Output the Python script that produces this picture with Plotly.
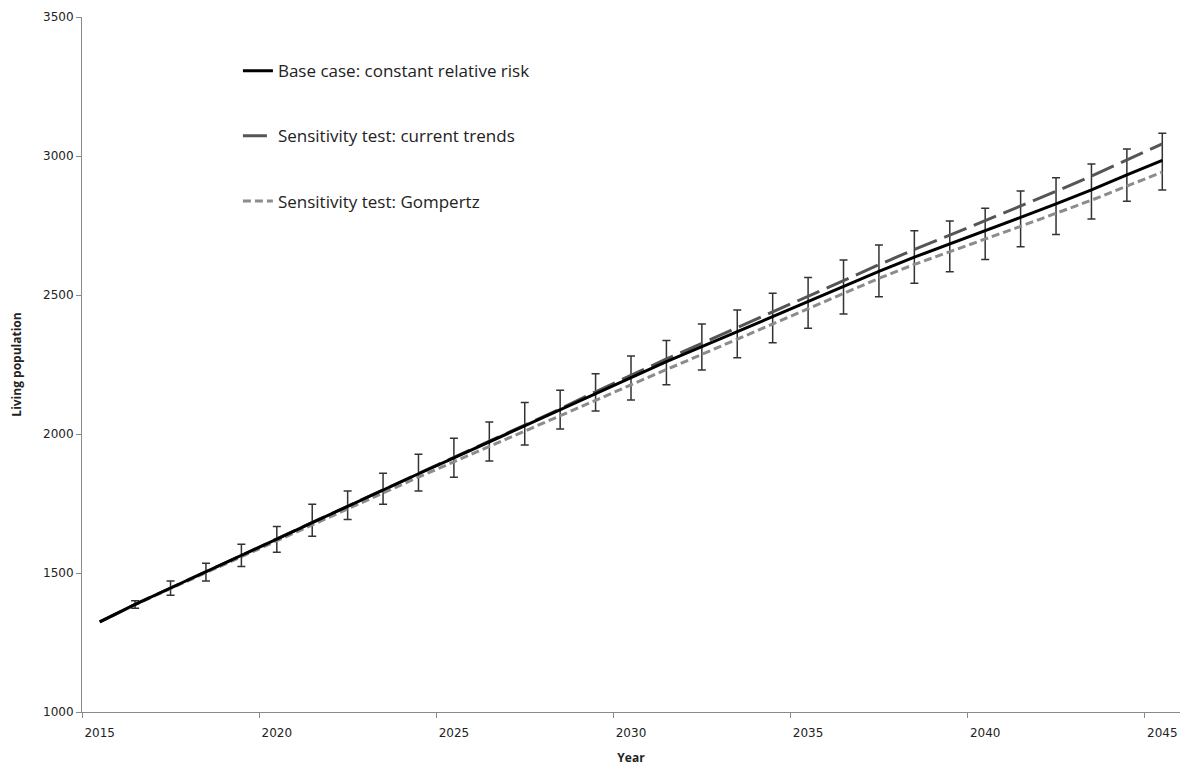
import plotly.graph_objects as go

years = list(range(2015, 2046))

base_case = [1324, 1387, 1446, 1504, 1563, 1622, 1681, 1740, 1799, 1857,
             1914, 1972, 2029, 2086, 2146, 2204, 2260, 2314, 2368, 2422,
             2477, 2531, 2585, 2636, 2683, 2731, 2779, 2828, 2878, 2932, 2984]

current_trends = [1324, 1387, 1446, 1504, 1563, 1623, 1682, 1741, 1800, 1859,
                  1916, 1974, 2032, 2090, 2152, 2212, 2270, 2326, 2382, 2438,
                  2495, 2552, 2609, 2664, 2715, 2767, 2819, 2873, 2928, 2987, 3044]

gompertz = [1324, 1386, 1444, 1501, 1559, 1617, 1674, 1732, 1789, 1845,
            1900, 1955, 2009, 2064, 2121, 2177, 2232, 2286, 2340, 2395,
            2451, 2506, 2560, 2610, 2655, 2701, 2747, 2794, 2841, 2892, 2942]

err_years = list(range(2016, 2046))
err_upper = [1400, 1471, 1535, 1603, 1667, 1747, 1795, 1859, 1927, 1985,
             2043, 2113, 2157, 2217, 2281, 2336, 2396, 2446, 2506, 2563,
             2626, 2680, 2731, 2766, 2812, 2874, 2922, 2971, 3025, 3082]
err_lower = [1373, 1420, 1471, 1523, 1575, 1632, 1692, 1747, 1795, 1844,
             1903, 1960, 2018, 2083, 2122, 2177, 2230, 2274, 2328, 2380,
             2432, 2494, 2542, 2584, 2628, 2674, 2718, 2773, 2837, 2878]

x_labels = ["2015", "2020", "2025", "2030", "2035", "2040", "2045"]
x_label_vals = [2015, 2020, 2025, 2030, 2035, 2040, 2045]
x_tick_marks = [2014.5, 2019.5, 2024.5, 2029.5, 2034.5, 2039.5, 2044.5]
y_ticks = [1000, 1500, 2000, 2500, 3000, 3500]

err_center = base_case[1:]
err_plus = [u - c for u, c in zip(err_upper, err_center)]
err_minus = [c - l for l, c in zip(err_lower, err_center)]

fig = go.Figure()

fig.add_trace(go.Scatter(
    x=err_years, y=err_center, mode="markers",
    marker=dict(size=1, color="rgba(0,0,0,0)"),
    error_y=dict(type="data", symmetric=False, array=err_plus, arrayminus=err_minus,
                 color="#333333", thickness=1.5, width=4),
    showlegend=False, hoverinfo="skip"))

fig.add_trace(go.Scatter(
    x=years, y=gompertz, mode="lines", name="Sensitivity test: Gompertz",
    line=dict(color="#8c8c8c", width=3, dash="8px,4px"), legendgroup="c",
    legendrank=3))

fig.add_trace(go.Scatter(
    x=years, y=current_trends, mode="lines", name="Sensitivity test: current trends",
    line=dict(color="#555555", width=3, dash="24px,8px"), legendgroup="b",
    legendrank=2))

fig.add_trace(go.Scatter(
    x=years, y=base_case, mode="lines", name="Base case: constant relative risk",
    line=dict(color="#000000", width=3), legendgroup="a",
    legendrank=1))

fig.update_layout(
    width=1188, height=771,
    margin=dict(l=82, r=8, t=17, b=59),
    paper_bgcolor="white", plot_bgcolor="white",
    font=dict(family="DejaVu Sans", size=12, color="#222222"),
    legend=dict(x=0.142, y=0.948, xanchor="left", yanchor="top",
                bgcolor="rgba(0,0,0,0)", tracegroupgap=40,
                font=dict(family="Open Sans", size=17, color="#222222")),
    xaxis=dict(
        range=[2014.5, 2045.5], showgrid=False, zeroline=False,
        showline=True, linecolor="#8a8a8a", linewidth=1,
        tickmode="array", tickvals=x_label_vals, ticktext=x_labels,
        ticks="outside", ticklen=10, tickcolor="rgba(0,0,0,0)",
        minor=dict(tickmode="array", tickvals=x_tick_marks,
                   ticks="outside", ticklen=5, tickcolor="#8a8a8a"),
        tickfont=dict(family="DejaVu Sans", size=12, color="#222222"),
        title=dict(text="<b>Year</b>", standoff=14,
                   font=dict(family="Open Sans", size=12, color="#222222"))),
    yaxis=dict(
        range=[1000, 3500], showgrid=False, zeroline=False,
        showline=True, linecolor="#8a8a8a", linewidth=1,
        tickmode="array", tickvals=y_ticks, ticks="outside", ticklen=5,
        tickcolor="#8a8a8a",
        tickfont=dict(family="DejaVu Sans", size=12, color="#222222"),
        title=dict(text="<b>Living population</b>", standoff=18,
                   font=dict(family="Open Sans", size=12, color="#222222"))),
)

fig.write_html("out.html", config={"displayModeBar": False},
               post_script="document.body.style.margin='0';document.body.style.overflow='hidden';")
